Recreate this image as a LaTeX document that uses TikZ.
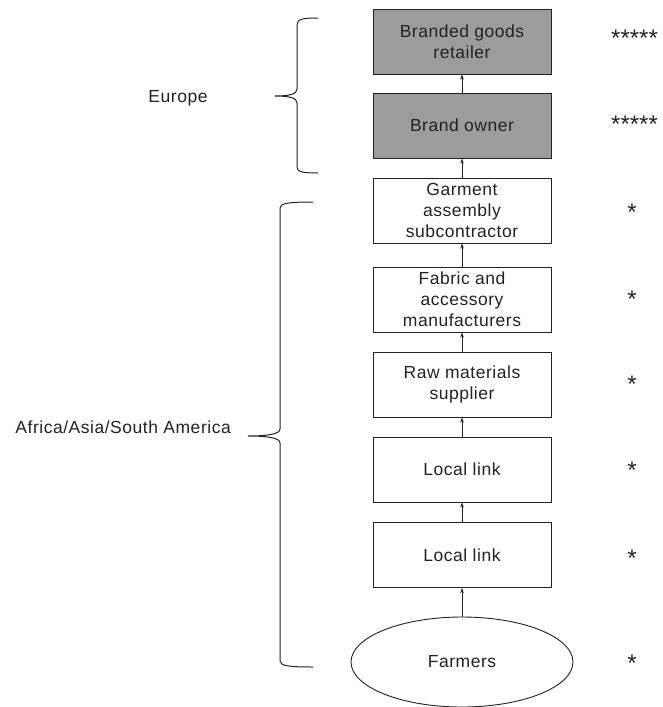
\documentclass[tikz,border=0pt]{standalone}
\usepackage{fontspec}
\setmainfont[LetterSpace=3]{Liberation Sans}
\newfontfamily\starfont{Liberation Sans}
\usetikzlibrary{arrows.meta,shapes.geometric}
\definecolor{boxgray}{HTML}{9C9C9C}
\definecolor{ink}{HTML}{222222}
\tikzset{
  stage/.style={draw=ink, line width=0.9pt, minimum width=178pt, minimum height=65pt,
    inner sep=0pt, align=center, text=ink, font=\fontsize{17.5}{21}\selectfont},
  euro/.style={stage, fill=boxgray},
  farm/.style={draw=ink, line width=0.9pt, ellipse, minimum width=222pt, minimum height=90pt,
    inner sep=0pt, text=ink, font=\fontsize{17.5}{21}\selectfont},
  flow/.style={draw=ink, line width=0.9pt, -{Stealth[length=5pt,width=3.5pt]}},
  brace/.style={draw=ink, line width=1pt},
  stars/.style={text=ink, font=\starfont\fontsize{24}{24}\selectfont, inner sep=0pt, anchor=base},
  region/.style={text=ink, font=\fontsize{17.5}{21}\selectfont, inner sep=0pt}
}
\begin{document}
\begin{tikzpicture}[x=1pt,y=-1pt]
\useasboundingbox (0,0) rectangle (662,707);
\node[euro] (b1) at (462,41.5) {Branded goods\\retailer};
\node[euro] (b2) at (462,125.5) {Brand owner};
\node[stage] (b3) at (462,210.5) {Garment\\assembly\\subcontractor};
\node[stage] (b4) at (462,299.5) {Fabric and\\accessory\\manufacturers};
\node[stage] (b5) at (462,384.5) {Raw materials\\supplier};
\node[stage] (b6) at (462,469.5) {Local link};
\node[stage] (b7) at (462,555) {Local link};
\node[farm] (f) at (462,662) {Farmers};

\draw[flow] (b2.north) -- (b1.south);
\draw[flow] (b3.north) -- (b2.south);
\draw[flow] (b4.north) -- (b3.south);
\draw[flow] (b5.north) -- (b4.south);
\draw[flow] (b6.north) -- (b5.south);
\draw[flow] (b7.north) -- (b6.south);
\draw[flow] (f.north) -- (b7.south);

\node[stars, anchor=base west] (s1) at (611,46) {*****};
\node[stars, anchor=base west] (s2) at (611,132) {*****};
\node[stars] (s3) at (632,220) {*};
\node[stars] (s4) at (632,307) {*};
\node[stars] (s5) at (632,392) {*};
\node[stars] (s6) at (632,478) {*};
\node[stars] (s7) at (632,566) {*};
\node[stars] (s8) at (632,671) {*};

\node[region] (eu) at (178,98) {Europe};
\node[region, anchor=east] (af) at (231,427) {Africa/Asia/South America};

% Europe brace
\draw[brace] (318,18) .. controls (303,18) and (297,19) .. (297,25)
  -- (297,89) .. controls (297,94) and (290,96) .. (275,96)
  .. controls (290,96) and (297,98) .. (297,103)
  -- (297,167) .. controls (297,172) and (303,173) .. (318,173);
% Africa brace
\draw[brace] (313,202) .. controls (290,202) and (280,203) .. (280,208)
  -- (280,429) .. controls (280,434) and (268,436) .. (248,436)
  .. controls (268,436) and (280,438) .. (280,443)
  -- (280,661) .. controls (280,666) and (290,667) .. (313,667);
\end{tikzpicture}
\end{document}
